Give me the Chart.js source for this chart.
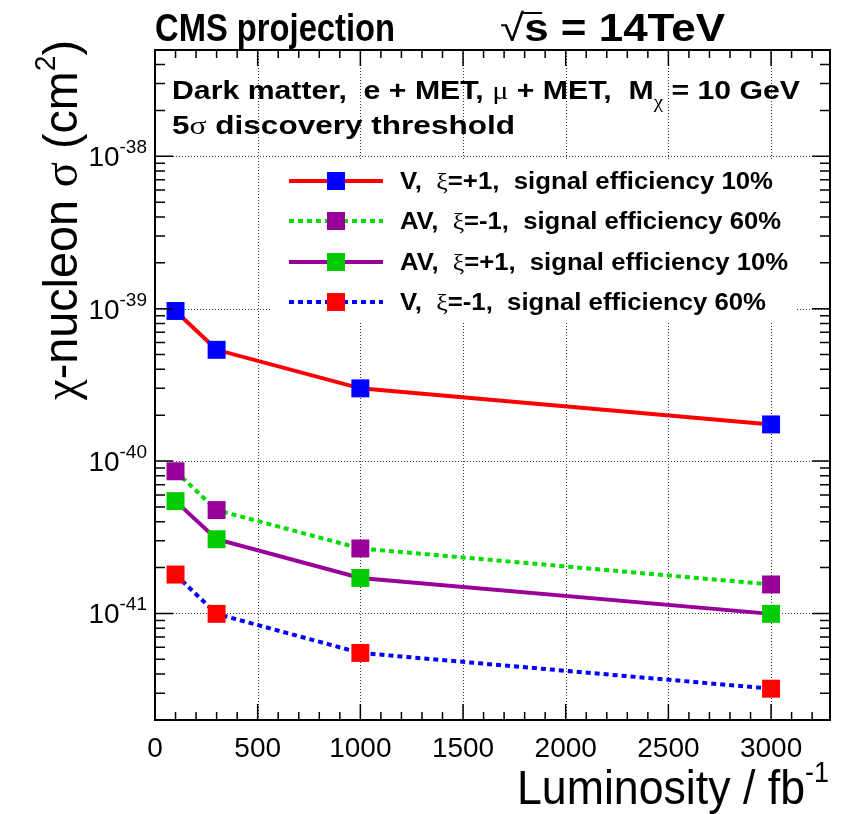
<!DOCTYPE html>
<html>
<head>
<meta charset="utf-8">
<script src="https://cdn.jsdelivr.net/npm/chart.js@4.4.1/dist/chart.umd.min.js"></script>
<style>
  html, body { margin: 0; padding: 0; background: #fff; }
  #c { display: block; }
</style>
</head>
<body>
<canvas id="c" width="853" height="814"></canvas>
<script>
/* ---- data ---- */
const luminosity = [100, 300, 1000, 3000];
const vPlus10 = [9.66e-40, 5.37e-40, 3.0e-40, 1.74e-40];
const avMinus60 = [8.57e-41, 4.77e-41, 2.67e-41, 1.55e-41];
const avPlus10 = [5.46e-41, 3.07e-41, 1.71e-41, 9.94e-42];
const vMinus60 = [1.80e-41, 9.94e-42, 5.51e-42, 3.21e-42];
const seriesLabels = [
  "V,  ξ=+1,  signal efficiency 10%",
  "AV,  ξ=-1,  signal efficiency 60%",
  "AV,  ξ=+1,  signal efficiency 10%",
  "V,  ξ=-1,  signal efficiency 60%"
];
const xTicks = [0, 500, 1000, 1500, 2000, 2500, 3000];
const yDecades = [-41, -40, -39, -38];

const SANS = "'Liberation Sans', Arial, Helvetica, sans-serif";
const SERIF = "'Liberation Serif', 'DejaVu Serif', serif";

function pts(ys) {
  return luminosity.map((x, i) => ({ x: x, y: ys[i] }));
}

function series(label, ys, line, marker, dash) {
  return {
    label: label,
    data: pts(ys),
    borderColor: line,
    borderWidth: 4,
    borderDash: dash,
    borderCapStyle: "butt",
    pointStyle: "rect",
    pointRadius: 12.7,
    pointHoverRadius: 12.7,
    pointBackgroundColor: marker,
    pointBorderColor: marker,
    pointBorderWidth: 0,
    tension: 0,
    fill: false
  };
}

/* draw a list of text pieces, squeezed to a given width */
function drawPieces(ctx, pieces, x, y, width, align) {
  let total = 0;
  pieces.forEach(p => {
    ctx.font = p.font;
    p.w = ctx.measureText(p.t).width;
    total += p.w;
  });
  const k = width ? width / total : 1;
  ctx.save();
  ctx.translate(x, y);
  ctx.scale(k, 1);
  let cx = align === "right" ? -total : (align === "center" ? -total / 2 : 0);
  pieces.forEach(p => {
    ctx.font = p.font;
    ctx.fillText(p.t, cx, p.dy || 0);
    p.x0 = cx * k + x;
    p.x1 = (cx + p.w) * k + x;
    cx += p.w;
  });
  ctx.restore();
  return pieces;
}

// greek letters in serif, rest in bold sans
function richText(str, size) {
  const out = [];
  let buf = "";
  for (const ch of str) {
    if (/[α-ωΑ-Ω]/.test(ch)) {
      if (buf) out.push({ t: buf, font: "bold " + size + "px " + SANS });
      buf = "";
      out.push({ t: ch, font: size + "px " + SERIF });
    } else {
      buf += ch;
    }
  }
  if (buf) out.push({ t: buf, font: "bold " + size + "px " + SANS });
  return out;
}

/* ---- grid, frame, ticks, labels, legend ---- */
const rootStyle = {
  id: "rootStyle",
  beforeDatasetsDraw(chart) {
    const { ctx, chartArea: a, scales: { x, y } } = chart;
    ctx.save();
    ctx.strokeStyle = "#333";
    ctx.lineWidth = 1;
    ctx.setLineDash([1, 2]);
    xTicks.slice(1).forEach(v => {
      const px = Math.round(x.getPixelForValue(v)) + 0.5;
      ctx.beginPath();
      ctx.moveTo(px, a.top);
      ctx.lineTo(px, a.bottom);
      ctx.stroke();
    });
    yDecades.forEach(d => {
      const py = Math.round(y.getPixelForValue(Math.pow(10, d))) + 0.5;
      ctx.beginPath();
      ctx.moveTo(a.left, py);
      ctx.lineTo(a.right, py);
      ctx.stroke();
    });
    ctx.restore();

    // legend background
    ctx.save();
    ctx.fillStyle = "#fff";
    ctx.fillRect(270, 159, 527, 162);
    ctx.restore();
  },
  afterDatasetsDraw(chart) {
    const { ctx, chartArea: a, scales: { x, y } } = chart;
    ctx.save();
    ctx.strokeStyle = "#000";
    ctx.lineWidth = 2;
    ctx.strokeRect(a.left, a.top, a.right - a.left, a.bottom - a.top);

    // x ticks, bottom and top
    ctx.lineWidth = 1.5;
    for (let v = 0; v <= 3200; v += 100) {
      const px = x.getPixelForValue(v);
      const len = v % 500 === 0 ? 16 : 8;
      ctx.beginPath();
      ctx.moveTo(px, a.bottom);
      ctx.lineTo(px, a.bottom - len);
      ctx.moveTo(px, a.top);
      ctx.lineTo(px, a.top + len);
      ctx.stroke();
    }
    // y ticks, left and right
    for (let d = -42; d <= -38; d++) {
      for (let m = 1; m <= 9; m++) {
        const v = m * Math.pow(10, d);
        if (v < y.min || v > y.max) continue;
        const py = y.getPixelForValue(v);
        const len = m === 1 ? 18 : 10;
        ctx.beginPath();
        ctx.moveTo(a.left, py);
        ctx.lineTo(a.left + len, py);
        ctx.moveTo(a.right, py);
        ctx.lineTo(a.right - len, py);
        ctx.stroke();
      }
    }

    // tick labels
    ctx.fillStyle = "#000";
    ctx.textBaseline = "alphabetic";
    xTicks.forEach(v => {
      ctx.font = "28px " + SANS;
      ctx.textAlign = "center";
      ctx.fillText(String(v), x.getPixelForValue(v), 757);
    });
    ctx.textAlign = "left";
    yDecades.forEach(d => {
      const py = y.getPixelForValue(Math.pow(10, d));
      drawPieces(ctx, [
        { t: "10", font: "28px " + SANS },
        { t: String(d), font: "19px " + SANS, dy: -13 }
      ], 147, py + 10, 0, "right");
    });

    // axis titles
    drawPieces(ctx, [
      { t: "Luminosity / fb", font: "48px " + SANS },
      { t: "-1", font: "29px " + SANS, dy: -22 }
    ], 829, 804, 312, "right");

    ctx.save();
    ctx.translate(77, 400);
    ctx.rotate(-Math.PI / 2);
    drawPieces(ctx, [
      { t: "χ", font: "48px " + SERIF },
      { t: "-nucleon ", font: "48px " + SANS },
      { t: "σ", font: "48px " + SERIF },
      { t: " (cm", font: "48px " + SANS },
      { t: "2", font: "29px " + SANS, dy: -22 },
      { t: ")", font: "48px " + SANS }
    ], 0, 0, 360, "left");
    ctx.restore();

    // header
    drawPieces(ctx, [{ t: "CMS projection", font: "bold 38px " + SANS }], 155, 41, 240, "left");
    const sq = drawPieces(ctx, [
      { t: "√", font: "38px " + SANS },
      { t: "s = 14TeV", font: "bold 38px " + SANS }
    ], 500, 41, 225, "left");
    ctx.lineWidth = 2;
    ctx.beginPath();
    ctx.moveTo(sq[0].x1 - 1, 13);
    ctx.lineTo(sq[0].x1 + 18, 13);
    ctx.stroke();

    // annotation
    const line1 = richText("Dark matter,  e + MET, μ + MET,  M", 26);
    line1.push({ t: "χ", font: "18px " + SERIF, dy: 9 });
    line1.push({ t: " = 10 GeV", font: "bold 26px " + SANS });
    drawPieces(ctx, line1, 172, 99, 628, "left");
    drawPieces(ctx, richText("5σ discovery threshold", 26), 172, 134, 343, "left");

    // legend
    const rowY = [181, 221, 262, 302];
    const textW = [373, 381, 388, 366];
    chart.data.datasets.forEach((ds, i) => {
      const ry = rowY[i];
      ctx.save();
      ctx.strokeStyle = ds.borderColor;
      ctx.lineWidth = ds.borderWidth;
      ctx.setLineDash(ds.borderDash || []);
      ctx.beginPath();
      ctx.moveTo(289, ry);
      ctx.lineTo(383, ry);
      ctx.stroke();
      ctx.fillStyle = ds.pointBackgroundColor;
      ctx.fillRect(327, ry - 9, 18, 18);
      ctx.restore();
      drawPieces(ctx, richText(ds.label, 23), 400, ry + 8, textW[i], "left");
    });
    ctx.restore();
  }
};

new Chart(document.getElementById("c"), {
  type: "line",
  data: {
    datasets: [
      series(seriesLabels[0], vPlus10, "#ff0000", "#0000ff", []),
      series(seriesLabels[1], avMinus60, "#00dd00", "#990099", [5, 4]),
      series(seriesLabels[2], avPlus10, "#990099", "#00cc00", []),
      series(seriesLabels[3], vMinus60, "#0000ff", "#ff0000", [5, 4])
    ]
  },
  options: {
    responsive: false,
    animation: false,
    devicePixelRatio: 1,
    layout: { padding: { left: 155, right: 23, top: 50, bottom: 94 } },
    plugins: { legend: { display: false }, tooltip: { enabled: false } },
    scales: {
      x: { type: "linear", min: 0, max: 3287, display: false },
      y: { type: "logarithmic", min: 2.09e-42, max: 4.98e-38, display: false }
    }
  },
  plugins: [rootStyle]
});
</script>
</body>
</html>
